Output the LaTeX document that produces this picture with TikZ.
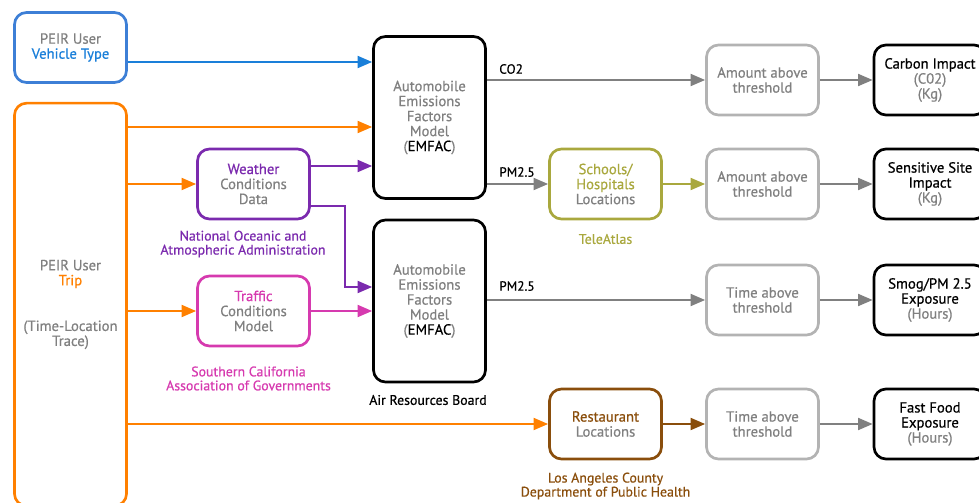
\documentclass[tikz,border=0pt]{standalone}
\usepackage{fontspec}
\setmainfont{PT Sans}[UprightFeatures={FakeBold=0.6}]
\usetikzlibrary{arrows.meta}
\definecolor{peirblue}{HTML}{1A7FD9}
\definecolor{vehframe}{HTML}{3D7FD6}
\definecolor{triporange}{HTML}{FF8000}
\definecolor{noaapurple}{HTML}{7B2AAE}
\definecolor{scagpink}{HTML}{D63AAF}
\definecolor{teleolive}{HTML}{A9A83E}
\definecolor{lacbrown}{HTML}{8A4E0C}
\definecolor{txtgray}{HTML}{808080}
\definecolor{framegray}{HTML}{B3B3B3}
\definecolor{arrgray}{HTML}{808080}
\tikzset{
    box/.style={draw, line width=2pt, rounded corners=9pt, minimum width=84pt,
        minimum height=52.5pt, align=center, text=txtgray, inner sep=1pt,
        font=\fontsize{11}{11.25}\selectfont},
    modelbox/.style={box, draw=black, minimum height=121.5pt},
    resultbox/.style={box, draw=black, text=black},
    threshbox/.style={box, draw=framegray},
    flow/.style={-{Triangle[length=11pt,width=9pt]}, line width=1.6pt},
    source/.style={align=center, inner sep=0pt, font=\fontsize{10.4}{10.5}\selectfont},
}
\begin{document}
\begin{tikzpicture}[x=0.75pt, y=-0.75pt, every node/.style={font=\fontsize{10}{11.25}\selectfont}]
    \useasboundingbox (0,0) rectangle (979,503);
    \clip (0,0) rectangle (979,503);
    \begin{scope}
        \node[box, draw=vehframe] (veh) at (70.5, 47.5) {PEIR User\\{\color{peirblue}Vehicle Type}};
        \node[box, draw=triporange, minimum height=302pt] (trip) at (70.5, 304.5)
            {PEIR User\\{\color{triporange}Trip}\\[23pt](Time-Location\\Trace)};
        \node[box, draw=noaapurple] (weather) at (253.5, 184) {{\color{noaapurple}Weather}\\Conditions\\Data};
        \node[box, draw=scagpink] (traffic) at (253.5, 311) {{\color{scagpink}Traffic}\\Conditions\\Model};
        \node[modelbox] (emfacA) at (429.5, 117.5) {Automobile\\Emissions\\Factors\\Model\\({\color{black}EMFAC})};
        \node[modelbox] (emfacB) at (429.5, 301) {Automobile\\Emissions\\Factors\\Model\\({\color{black}EMFAC})};
        \node[box, draw=teleolive] (schools) at (605.5, 184)
            {{\color{teleolive}Schools/}\\{\color{teleolive}Hospitals}\\Locations};
        \node[box, draw=lacbrown] (rest) at (605.5, 424) {{\color{lacbrown}Restaurant}\\Locations};
        \node[threshbox] (amtA) at (762.5, 80) {Amount above\\threshold};
        \node[threshbox] (amtB) at (762.5, 184) {Amount above\\threshold};
        \node[threshbox] (timeA) at (762.5, 300) {Time above\\threshold};
        \node[threshbox] (timeB) at (762.5, 424) {Time above\\threshold};
        \node[resultbox] (carbon) at (930, 80) {Carbon Impact\\{\color{txtgray}(C02)}\\{\color{txtgray}(Kg)}};
        \node[resultbox] (sens) at (930, 184) {Sensitive Site\\Impact\\{\color{txtgray}(Kg)}};
        \node[resultbox] (smog) at (930, 300) {Smog/PM 2.5\\Exposure\\{\color{txtgray}(Hours)}};
        \node[resultbox] (fast) at (930, 424) {Fast Food\\Exposure\\{\color{txtgray}(Hours)}};
    \end{scope}
    \begin{scope}[every node/.append style={source}]
        \node[text=noaapurple] (noaa) at (243, 244) {National Oceanic and\\Atmospheric Administration};
        \node[text=scagpink] (scag) at (248.5, 378.5) {Southern California\\Association of Governments};
        \node[text=black] (arb) at (428, 400) {Air Resources Board};
        \node[text=teleolive] (tele) at (605.5, 239) {TeleAtlas};
        \node[text=lacbrown] (lac) at (605.5, 486) {Los Angeles County\\Department of Public Health};
    \end{scope}
    \begin{scope}[every node/.append style={anchor=west, inner sep=0pt}]
        \node (co2) at (499, 69) {CO2};
        \node (pmA) at (499, 172) {PM2.5};
        \node (pmB) at (499, 286) {PM2.5};
    \end{scope}
    \coordinate (rowveh) at (0, 62);
    \coordinate (rowtrip) at (0, 127);
    \coordinate (rowwx) at (0, 166);
    \coordinate (rowwxb) at (0, 206);
    \coordinate (rowkink) at (0, 287);
    \coordinate (bend) at (345, 0);
    \begin{scope}
        \draw[flow, peirblue] (veh.east |- rowveh) -- (emfacA.west |- rowveh);
        \draw[flow, triporange] (trip.east |- rowtrip) -- (emfacA.west |- rowtrip);
        \draw[flow, triporange] (trip.east |- weather) -- (weather.west);
        \draw[flow, triporange] (trip.east |- traffic) -- (traffic.west);
        \draw[flow, triporange] (trip.east |- rest) -- (rest.west);
        \draw[flow, noaapurple] (weather.east |- rowwx) -- (emfacA.west |- rowwx);
        \draw[flow, noaapurple] (weather.east |- rowwxb) -- (bend |- rowwxb) -- (bend |- rowkink) -- (emfacB.west |- rowkink);
        \draw[flow, scagpink] (traffic.east) -- (traffic.east -| emfacB.west);
        \draw[flow, arrgray] (emfacA.east |- amtA) -- (amtA.west);
        \draw[flow, arrgray] (emfacA.east |- schools) -- (schools.west);
        \draw[flow, arrgray] (emfacB.east |- timeA) -- (timeA.west);
        \draw[flow, teleolive] (schools.east) -- (amtB.west);
        \draw[flow, lacbrown] (rest.east) -- (timeB.west);
        \draw[flow, arrgray] (amtA.east) -- (carbon.west);
        \draw[flow, arrgray] (amtB.east) -- (sens.west);
        \draw[flow, arrgray] (timeA.east) -- (smog.west);
        \draw[flow, arrgray] (timeB.east) -- (fast.west);
    \end{scope}
\end{tikzpicture}
\end{document}
